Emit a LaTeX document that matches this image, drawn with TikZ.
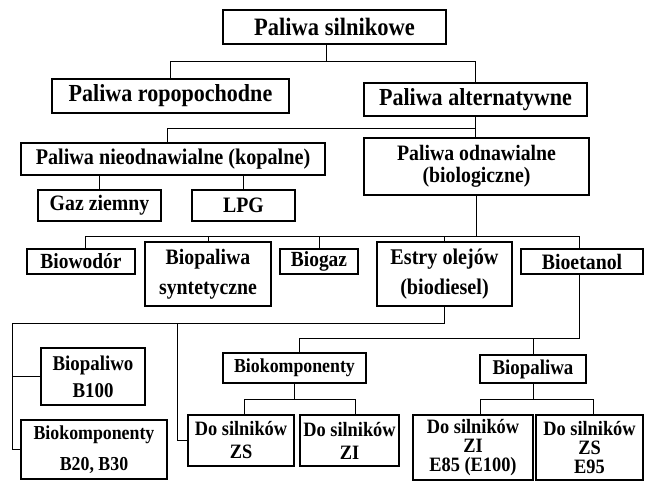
\documentclass[tikz,border=0pt]{standalone}
\usepackage{fontspec}
\setmainfont{Liberation Serif}[FakeStretch=0.9]
\usepackage{tikz}
\usetikzlibrary{positioning,calc}
\newcommand{\fsz}[2]{\fontsize{#1}{#2}\selectfont\bfseries}

\begin{document}
\begin{tikzpicture}[x=1pt,y=1pt,yscale=-1,xscale=1]
  \useasboundingbox (0,0) rectangle (645,481);
  \tikzstyle{box} = [draw,line width=1.3pt,align=center,inner sep=0pt]
  \tikzstyle{link} = [line width=0.8pt]
  %Draw the top levels
  \node[box,font=\fsz{25}{26},minimum width=223pt,minimum height=34pt] (silnik) at (334.5,27) {Paliwa silnikowe};
  \node[box,font=\fsz{24.5}{26},minimum width=237pt,minimum height=34pt] (ropo) at (170.5,96) {Paliwa ropopochodne};
  \node[box,font=\fsz{24.5}{26},minimum width=223pt,minimum height=33pt] (alter) at (475.5,99.5) {Paliwa alternatywne};
  \node[box,font=\fsz{22.4}{24},minimum width=304pt,minimum height=32pt] (nieodn) at (173,159) {Paliwa nieodnawialne (kopalne)};
  \node[box,font=\fsz{22}{22},minimum width=225pt,minimum height=57pt] (odn) at (476.5,166.5) {Paliwa odnawialne\\(biologiczne)};
  \node[box,font=\fsz{22}{23},minimum width=123pt,minimum height=31pt] (gaz) at (99.5,205.5) {Gaz ziemny};
  \node[box,font=\fsz{22}{23},minimum width=103pt,minimum height=31pt] (lpg) at (243.5,205.5) {LPG};
  %Draw the renewable row
  \node[box,font=\fsz{21.6}{23},minimum width=108pt,minimum height=25pt] (biowod) at (81,261.5) {Biowodór};
  \node[box,font=\fsz{22}{30},minimum width=126pt,minimum height=64pt] (biosyn) at (208,274) {Biopaliwa\\syntetyczne};
  \node[box,font=\fsz{21.6}{23},minimum width=78pt,minimum height=25pt] (biogaz) at (319,261.5) {Biogaz};
  \node[box,font=\fsz{22.4}{30},minimum width=135pt,minimum height=64pt] (estry) at (444.5,274) {Estry olejów\\(biodiesel)};
  \node[box,font=\fsz{22}{23},minimum width=122pt,minimum height=25pt] (bioet) at (582,261.5) {Bioetanol};
  %Draw the bottom boxes
  \node[box,font=\fsz{21}{27},minimum width=104pt,minimum height=57pt] (b100) at (93,376.5) {Biopaliwo\\B100};
  \node[box,font=\fsz{19.8}{31},minimum width=146pt,minimum height=59pt] (b20) at (94,449.5) {Biokomponenty\\B20, B30};
  \node[box,font=\fsz{19.8}{21},minimum width=143pt,minimum height=30pt] (biokomp) at (294.5,368) {Biokomponenty};
  \node[box,font=\fsz{21}{22},minimum width=106pt,minimum height=28pt] (biopal) at (533,369) {Biopaliwa};
  \node[box,font=\fsz{20.4}{23},minimum width=106pt,minimum height=51pt] (dozs) at (241,440.5) {Do silników\\ZS};
  \node[box,font=\fsz{20.4}{23},minimum width=99pt,minimum height=51pt] (dozi) at (349.5,440.5) {Do silników\\ZI};
  \node[box,font=\fsz{20.4}{19},minimum width=120pt,minimum height=65pt] (e85) at (473,447.5) {Do silników\\ZI\\E85 (E100)};
  \node[box,font=\fsz{20.4}{19},minimum width=107pt,minimum height=65pt] (e95) at (589.5,447.5) {Do silników\\ZS\\E95};
  % Connect the levels
  \coordinate (busA) at (0,61);
  \coordinate (busB) at (0,128);
  \coordinate (busC) at (0,236);
  \coordinate (busD) at (12,323);
  \coordinate (busE) at (177,323);
  \coordinate (busF) at (0,338);
  \coordinate (busG) at (0,399);
  \draw[link] ([xshift=-8pt]silnik.south) -- ([xshift=-8pt]silnik.south |- busA);
  \draw[link] (ropo.north) -- (ropo.north |- busA) -- (alter.north |- busA) -- (alter.north);
  \draw[link] ([xshift=-6pt]nieodn.north) -- ([xshift=-6pt]nieodn.north |- busB) -- (alter.south |- busB);
  \draw[link] (alter.south) -- (alter.south |- odn.north);
  \draw[link] (gaz.north) -- (gaz.north |- nieodn.south);
  \draw[link] (lpg.north) -- (lpg.north |- nieodn.south);
  \draw[link] (odn.south) -- (odn.south |- busC);
  \draw[link] ([xshift=4pt]biowod.north) -- ([xshift=4pt]biowod.north |- busC) -- ([xshift=-3pt]bioet.north |- busC) -- ([xshift=-3pt]bioet.north);
  \foreach \n in {biosyn,biogaz,estry}
    \draw[link] (\n.north) -- (\n.north |- busC);
  %Left branch of the esters
  \draw[link] (estry.south) -- (estry.south |- busD) -- (busD) -- (busD |- b20.west) -- (b20.west);
  \draw[link] (busD |- b100.west) -- (b100.west);
  \draw[link] (busE) -- (busE |- dozs.west) -- (dozs.west);
  %Ethanol branch
  \draw[link] ([xshift=-3pt]bioet.south) -- ([xshift=-3pt]bioet.south |- busF) -- ([xshift=5pt]biokomp.north |- busF) -- ([xshift=5pt]biokomp.north);
  \draw[link] (biopal.north) -- (biopal.north |- busF);
  \draw[link] (biokomp.south) -- (biokomp.south |- busG);
  \draw[link] ([xshift=3pt]dozs.north) -- ([xshift=3pt]dozs.north |- busG) -- ([xshift=6pt]dozi.north |- busG) -- ([xshift=6pt]dozi.north);
  \draw[link] (biopal.south) -- (biopal.south |- busG);
  \draw[link] ([xshift=7pt]e85.north) -- ([xshift=7pt]e85.north |- busG) -- ([xshift=4pt]e95.north |- busG) -- ([xshift=4pt]e95.north);
\end{tikzpicture}
\end{document}
